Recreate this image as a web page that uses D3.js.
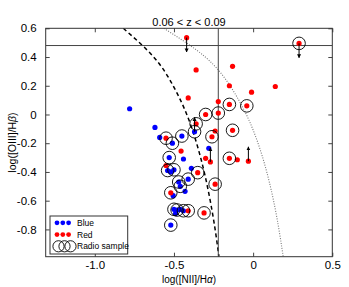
<!DOCTYPE html>
<html>
<head>
<meta charset="utf-8">
<script src="https://cdn.jsdelivr.net/npm/d3@7"></script>
<style>
  body { margin: 0; background: #fff; }
  text { font-family: "Liberation Sans", Arial, sans-serif; fill: #000; }
</style>
</head>
<body>
<div id="bpt"></div>
<script>
// set width and height of svg
var width = 349
var height = 287

// Blue galaxies  [log NII/Ha, log OIII/Hb]
var blueX = [-0.78, -0.62, -0.59, -0.45, -0.51, -0.37, -0.28, -0.44, -0.53, -0.39, -0.54, -0.50, -0.52,
             -0.47, -0.46, -0.41, -0.43, -0.505, -0.50, -0.48, -0.46, -0.44, -0.49, -0.52]
var blueY = [0.04, -0.09, -0.16, -0.15, -0.20, -0.12, -0.235, -0.31, -0.30, -0.375, -0.39, -0.385, -0.40,
             -0.47, -0.50, -0.45, -0.535, -0.565, -0.66, -0.665, -0.66, -0.67, -0.69, -0.77]

// Red galaxies
var redX = [-0.42, 0.29, -0.36, -0.13, -0.15, 0.14, -0.01, -0.41, -0.22, -0.15, -0.04, -0.22, -0.30,
            -0.36, -0.13, -0.24, -0.26, -0.55, -0.455, -0.30, -0.27, -0.15, -0.10, -0.03, -0.55,
            -0.35, -0.24, -0.52, -0.41, -0.31]
var redY = [0.535, 0.495, 0.31, 0.335, 0.20, 0.195, 0.155, 0.115, 0.09, 0.07, 0.06, 0.01, 0.0,
            -0.065, -0.11, -0.115, -0.155, -0.165, -0.255, -0.305, -0.33, -0.305, -0.315, -0.325, -0.355,
            -0.405, -0.485, -0.545, -0.67, -0.685]

// Radio sample (open circles)
var radioX = [0.29, -0.15, -0.04, -0.22, -0.30, -0.36, -0.13, -0.37, -0.26, -0.45, -0.55, -0.51, -0.53,
              -0.15, -0.54, -0.50, -0.35, -0.41, -0.47, -0.46, -0.24, -0.52, -0.50, -0.48, -0.44, -0.41,
              -0.31, -0.52]
var radioY = [0.495, 0.07, 0.06, 0.01, 0.0, -0.065, -0.11, -0.12, -0.155, -0.15, -0.165, -0.20, -0.30,
              -0.305, -0.39, -0.385, -0.405, -0.45, -0.47, -0.50, -0.485, -0.545, -0.66, -0.665, -0.67, -0.67,
              -0.685, -0.77]

// Limits (arrows): +1 = lower limit (up), -1 = upper limit (down)
var limX = [-0.42, 0.29, -0.37, -0.27, -0.03]
var limY = [0.535, 0.495, -0.12, -0.33, -0.325]
var limDir = [-1, -1, 1, 1, 1]
var arrowLen = 0.1

// Demarcation lines
var curveY = [0.6, 0.4, 0.2, 0, -0.2, -0.4, -0.6, -0.8, -0.99]
var kauffX = [-0.82, -0.628, -0.505, -0.419, -0.357, -0.309, -0.271, -0.240, -0.216]
var kewleyX = [-0.564, -0.302, -0.146, -0.043, 0.031, 0.086, 0.129, 0.163, 0.190]
var cutOIII = 0.48
var cutNII = -0.22

// ticks
var xTicks = [-1.0, -0.5, 0, 0.5]
var xTickLabels = ["-1.0", "-0.5", "0", "0.5"]
var yTicks = [-0.8, -0.6, -0.4, -0.2, 0, 0.2, 0.4, 0.6]
var yTickLabels = ["-0.8", "-0.6", "-0.4", "-0.2", "0", "0.2", "0.4", "0.6"]

var legendLabels = ["Blue", "Red", "Radio sample"]

var margin = {top: 28.3, right: 16.7, bottom: 30.3, left: 45.7}
var plotW = width - margin.left - margin.right
var plotH = height - margin.top - margin.bottom

var svg = d3.select("#bpt")
  .append("svg")
  .attr("width", width)
  .attr("height", height)

svg.append("defs").append("marker")
    .attr("id", "head")
    .attr("viewBox", "0 0 10 10")
    .attr("refX", 9).attr("refY", 5)
    .attr("markerWidth", 4).attr("markerHeight", 5)
    .attr("markerUnits", "userSpaceOnUse")
    .attr("orient", "auto")
  .append("path")
    .attr("d", "M0,0L10,5L0,10Z")
    .attr("fill", "#000")

var g = svg.append("g")
    .attr("transform", "translate(" + margin.left + "," + margin.top + ")")

var x = d3.scaleLinear().domain([-1.31, 0.5]).range([0, plotW])
var y = d3.scaleLinear().domain([-0.99, 0.6]).range([plotH, 0])

svg.append("clipPath").attr("id", "clip")
  .append("rect").attr("width", plotW).attr("height", plotH)

// axes, ticks inside on all sides
function fmt(ticks, labels) { return function(d) { return labels[ticks.indexOf(d)] } }

g.append("g")
    .attr("transform", "translate(0," + plotH + ")")
    .call(d3.axisBottom(x).tickValues(xTicks).tickFormat(fmt(xTicks, xTickLabels))
      .tickSizeInner(-4).tickSizeOuter(0).tickPadding(4))
    .call(a => a.select(".domain").remove())
    .selectAll("text").style("font-size", "11.5px")

g.append("g")
    .call(d3.axisTop(x).tickValues(xTicks).tickFormat("").tickSizeInner(-4).tickSizeOuter(0))
    .call(a => a.select(".domain").remove())

g.append("g")
    .call(d3.axisLeft(y).tickValues(yTicks).tickFormat(fmt(yTicks, yTickLabels))
      .tickSizeInner(-4).tickSizeOuter(0).tickPadding(9))
    .call(a => a.select(".domain").remove())
    .selectAll("text").style("font-size", "11.5px")

g.append("g")
    .attr("transform", "translate(" + plotW + ",0)")
    .call(d3.axisRight(y).tickValues(yTicks).tickFormat("").tickSizeInner(-4).tickSizeOuter(0))
    .call(a => a.select(".domain").remove())

g.selectAll(".tick line").attr("stroke", "#444")

var plot = g.append("g").attr("clip-path", "url(#clip)")

// demarcation curves
var kauff = curveY.map((d, i) => [kauffX[i], d])
var kewley = curveY.map((d, i) => [kewleyX[i], d])
var line = d3.line().x(d => x(d[0])).y(d => y(d[1])).curve(d3.curveNatural)

plot.append("path").datum(kewley)
    .attr("d", line).attr("fill", "none")
    .attr("stroke", "#777").attr("stroke-width", 1.1).attr("stroke-dasharray", "1,1.5")

plot.append("path").datum(kauff)
    .attr("d", line).attr("fill", "none")
    .attr("stroke", "#000").attr("stroke-width", 1.5).attr("stroke-dasharray", "4,3")

plot.append("line")
    .attr("x1", 0).attr("x2", plotW).attr("y1", y(cutOIII)).attr("y2", y(cutOIII))
    .attr("stroke", "#444").attr("stroke-width", 1)
plot.append("line")
    .attr("x1", x(cutNII)).attr("x2", x(cutNII)).attr("y1", 0).attr("y2", plotH)
    .attr("stroke", "#444").attr("stroke-width", 1)

// points
plot.selectAll(".blue").data(blueX).join("circle")
    .attr("cx", d => x(d)).attr("cy", (d, i) => y(blueY[i]))
    .attr("r", 2.6).attr("fill", "#0000ff")

plot.selectAll(".red").data(redX).join("circle")
    .attr("cx", d => x(d)).attr("cy", (d, i) => y(redY[i]))
    .attr("r", 2.6).attr("fill", "#ff0000")

plot.selectAll(".radio").data(radioX).join("circle")
    .attr("cx", d => x(d)).attr("cy", (d, i) => y(radioY[i]))
    .attr("r", 6.3).attr("fill", "none").attr("stroke", "#000").attr("stroke-width", 0.9)

// limit arrows
plot.selectAll(".lim").data(limX).join("line")
    .attr("x1", d => x(d)).attr("x2", d => x(d))
    .attr("y1", (d, i) => y(limY[i]))
    .attr("y2", (d, i) => y(limY[i] + limDir[i] * arrowLen))
    .attr("stroke", "#000").attr("stroke-width", 1)
    .attr("marker-end", "url(#head)")

// frame
g.append("rect").attr("width", plotW).attr("height", plotH)
    .attr("fill", "none").attr("stroke", "#333").attr("stroke-width", 1)

// title and labels
svg.append("text")
    .attr("x", margin.left + plotW / 2).attr("y", 25.5)
    .attr("text-anchor", "middle").style("font-size", "11px")
    .text("0.06 < z < 0.09")

var xl = svg.append("text")
    .attr("x", margin.left + plotW / 2).attr("y", 283)
    .attr("text-anchor", "middle").style("font-size", "10px")
xl.append("tspan").text("log([NII]/H")
xl.append("tspan").style("font-style", "italic").text("α")
xl.append("tspan").text(")")

var yl = svg.append("text")
    .attr("transform", "translate(16," + (margin.top + plotH / 2) + ") rotate(-90)")
    .attr("text-anchor", "middle").style("font-size", "10.5px")
yl.append("tspan").text("log([OIII]/H")
yl.append("tspan").style("font-style", "italic").text("β")
yl.append("tspan").text(")")

// legend
var leg = svg.append("g").attr("transform", "translate(50,216)")
leg.append("rect").attr("width", 77.7).attr("height", 38)
    .attr("fill", "#fff").attr("stroke", "#333").attr("stroke-width", 1)

var legColors = ["#0000ff", "#ff0000"]
legColors.forEach(function(c, i) {
    leg.selectAll(".m" + i).data([0, 1, 2]).join("circle")
        .attr("cx", d => 7 + d * 5.8).attr("cy", 6.8 + i * 11.8)
        .attr("r", 2.4).attr("fill", c)
})
leg.selectAll(".mr").data([0, 1, 2]).join("circle")
    .attr("cx", d => 8.5 + d * 6).attr("cy", 30.3)
    .attr("r", 5.6).attr("fill", "none").attr("stroke", "#000").attr("stroke-width", 0.9)

leg.selectAll(".lt").data(legendLabels).join("text")
    .attr("x", 27).attr("y", (d, i) => 9.7 + i * 11.8)
    .style("font-size", "8.5px")
    .text(d => d)
</script>
</body>
</html>
